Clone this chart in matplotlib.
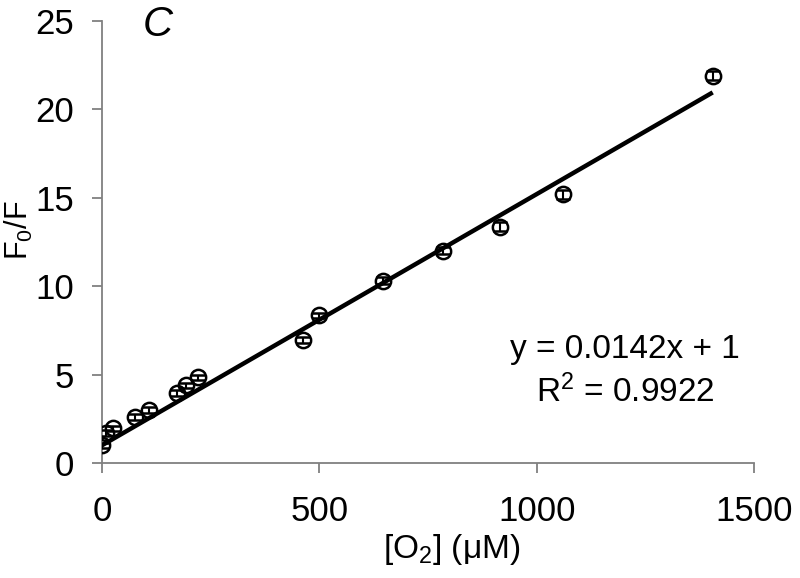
import matplotlib
matplotlib.use("Agg")
from matplotlib import pyplot as plt
import numpy as np

# data
o2_conc = [0, 9, 25, 76, 108, 172, 193, 222, 462, 500, 646, 784, 916, 1060, 1405]
f0_over_f = [1.0, 1.7, 1.95, 2.6, 3.0, 3.95, 4.4, 4.85, 6.95, 8.35, 10.3, 12.0, 13.35, 15.2, 21.9]
f_err = [0.15, 0.15, 0.15, 0.15, 0.15, 0.15, 0.15, 0.15, 0.15, 0.15, 0.2, 0.2, 0.25, 0.25, 0.25]

# linear fit shown on the chart
slope = 0.0142
intercept = 1.0
r_squared = 0.9922

plt.rcParams['font.family'] = ['Liberation Sans', 'DejaVu Sans']
plt.rcParams['mathtext.fontset'] = 'custom'
plt.rcParams['mathtext.rm'] = 'Liberation Sans'
plt.rcParams['mathtext.it'] = 'Liberation Sans:italic'

fig = plt.figure(figsize=(8, 5.78), dpi=100)
ax = fig.add_axes([0.1275, 0.199, 0.815, 0.765])

# fitted line
fit_x = np.array([0, max(o2_conc)])
ax.plot(fit_x, intercept + slope * fit_x, color='black', lw=3.2, solid_capstyle='butt', zorder=2)

# data points with error bars
ax.errorbar(o2_conc, f0_over_f, yerr=f_err, fmt='o', ms=11, mfc='none', mec='black',
            mew=1.8, ecolor='black', elinewidth=1.5, capsize=5, capthick=1.5, zorder=3)

ax.set_xlim(0, 1500)
ax.set_ylim(0, 25)
ax.set_xticks([0, 500, 1000, 1500])
ax.set_yticks([0, 5, 10, 15, 20, 25])

for side in ['top', 'right']:
    ax.spines[side].set_visible(False)
for side in ['left', 'bottom']:
    ax.spines[side].set_color('#808080')
    ax.spines[side].set_linewidth(1.3)

ax.tick_params(axis='both', direction='out', length=7, width=1.3, color='#808080',
               labelsize=25, labelcolor='black')
ax.tick_params(axis='x', pad=16)
ax.tick_params(axis='y', pad=13)

ax.set_xlabel(r'[O$_\mathregular{2}$] ($\mathregular{\mu}$M)', fontsize=24)
ax.set_ylabel(r'F$_\mathregular{0}$/F', fontsize=22)
ax.xaxis.set_label_coords(0.537, -0.155)
ax.yaxis.set_label_coords(-0.102, 0.527)

ax.text(0.086, 0.99, 'C', transform=ax.transAxes, fontsize=30, style='italic',
        ha='center', va='center')
ax.text(0.802, 0.256, 'y = %.4fx + %d' % (slope, intercept), transform=ax.transAxes,
        fontsize=24, ha='center', va='center')
ax.text(0.802, 0.161, r'R$^\mathregular{2}$ = %.4f' % r_squared, transform=ax.transAxes,
        fontsize=24, ha='center', va='center')

fig.savefig('out.png', dpi=100)
